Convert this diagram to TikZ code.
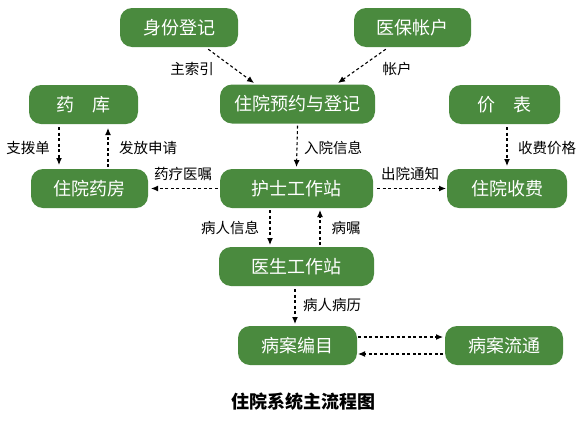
\documentclass[tikz,border=0pt]{standalone}
\usepackage{fontspec}
\setmainfont{Noto Sans CJK SC}
\usetikzlibrary{arrows.meta}
\definecolor{boxgreen}{HTML}{4A8A3E}
\begin{document}
\begin{tikzpicture}[x=1pt,y=-1pt,
  box/.style={draw=none,fill=boxgreen,rounded corners=12pt,text=white,
    minimum height=39pt,inner sep=0pt,font=\fontsize{18}{18}\selectfont},
  flow/.style={draw=black,line width=1.1pt,dash pattern=on 3pt off 2.5pt,
    -{Latex[length=7pt,width=6pt]}},
  lbl/.style={font=\fontsize{14.5}{15}\selectfont,text=black,inner sep=1pt}]
\useasboundingbox (0,0) rectangle (584,426);
\node[box,minimum width=118pt] (sf) at (179,27.5) {身份登记};
\node[box,minimum width=117pt] (yb) at (412.5,27.5) {医保帐户};
\node[box,minimum width=155pt] (yy) at (297.5,104) {住院预约与登记};
\node[box,minimum width=109pt] (yk) at (83.5,104.5) {药\hspace{1em}库};
\node[box,minimum width=111pt] (jb) at (504.5,104.5) {价\hspace{1em}表};
\node[box,minimum width=117pt] (yf) at (89.5,188.5) {住院药房};
\node[box,minimum width=153pt] (hs) at (296.5,188.5) {护士工作站};
\node[box,minimum width=120pt] (sfy) at (507,188.5) {住院收费};
\node[box,minimum width=155pt] (ys) at (296.5,266.5) {医生工作站};
\node[box,minimum width=119pt] (bm) at (297.5,345.5) {病案编目};
\node[box,minimum width=118pt] (lt) at (504,345.5) {病案流通};
\node[font=\fontsize{18}{18}\selectfont\bfseries] (title) at (303,402) {住院系统主流程图};

\draw[flow] (sf.south east) ++(-30,2) coordinate (a1) -- (254,83) coordinate (a2);
\node[lbl] (l1) at (192,69) {主索引};
\draw[flow] (yb.south west) ++(32,2) coordinate (b1) -- (338,83) coordinate (b2);
\node[lbl] (l2) at (397,69) {帐户};
\draw[flow] (yy.south) ++(0,2) -- (296.5,167);
\node[lbl] (l3) at (333,148) {入院信息};
\draw[flow] (59,127) -- (59,165);
\node[lbl] (l4) at (28,148) {支拨单};
\draw[flow] (108,167) -- (108,128);
\node[lbl] (l5) at (148,148) {发放申请};
\draw[flow] (hs.west) ++(-2,0) -- (151,188.5);
\node[lbl] (l6) at (183,174) {药疗医嘱};
\draw[flow] (hs.east) ++(4,0) -- (446,188.5);
\node[lbl] (l7) at (410,174) {出院通知};
\draw[flow] (507,127) -- (507,166);
\node[lbl] (l8) at (547,148) {收费价格};
\draw[flow] (270,210) -- (270,245);
\node[lbl] (l9) at (230,228) {病人信息};
\draw[flow] (320,245) -- (320,210);
\node[lbl] (l10) at (346,228) {病嘱};
\draw[flow] (295,289) -- (295,324);
\node[lbl] (l11) at (332,305) {病人病历};
\draw[flow] (358,337) -- (443,337);
\draw[flow] (443,354) -- (358,354);
\end{tikzpicture}
\end{document}
